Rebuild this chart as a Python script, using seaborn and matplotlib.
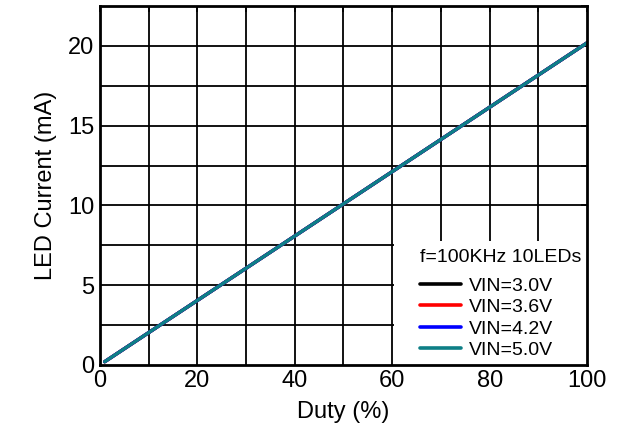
import matplotlib
matplotlib.use("Agg")
import matplotlib.pyplot as plt
from matplotlib.ticker import MultipleLocator
from matplotlib.patches import Rectangle
import seaborn as sns
import pandas as pd

duty = [1, 10, 20, 30, 40, 50, 60, 70, 80, 90, 100]
i_vin_30 = [0.20, 2.02, 4.04, 6.06, 8.08, 10.10, 12.12, 14.14, 16.16, 18.18, 20.20]
i_vin_36 = [0.20, 2.02, 4.04, 6.06, 8.08, 10.10, 12.12, 14.14, 16.16, 18.18, 20.20]
i_vin_42 = [0.20, 2.02, 4.04, 6.06, 8.08, 10.10, 12.12, 14.14, 16.16, 18.18, 20.20]
i_vin_50 = [0.20, 2.02, 4.04, 6.06, 8.08, 10.10, 12.12, 14.14, 16.16, 18.18, 20.20]
series_labels = ["VIN=3.0V", "VIN=3.6V", "VIN=4.2V", "VIN=5.0V"]
series_colors = ["#000000", "#ff0000", "#0000ff", "#0e7f86"]
legend_title = "f=100KHz 10LEDs"

rows = []
for lab, vals in zip(series_labels, [i_vin_30, i_vin_36, i_vin_42, i_vin_50]):
    for d, v in zip(duty, vals):
        rows.append({"Duty": d, "Current": v, "Series": lab})
df = pd.DataFrame(rows)

sns.set_style("white")
plt.rcParams["font.family"] = ["Liberation Sans", "DejaVu Sans"]
plt.rcParams["text.color"] = "black"
plt.rcParams["axes.labelcolor"] = "black"
plt.rcParams["xtick.color"] = "black"
plt.rcParams["ytick.color"] = "black"

fig = plt.figure(figsize=(6.2, 4.37), dpi=100)
ax = fig.add_axes([0.161, 0.165, 0.786, 0.821])

sns.lineplot(data=df, x="Duty", y="Current", hue="Series", hue_order=series_labels,
             palette=series_colors, linewidth=2.4, ax=ax, zorder=3, legend=True)

ax.set_xlim(0, 100)
ax.set_ylim(0, 22.5)
ax.xaxis.set_major_locator(MultipleLocator(20))
ax.xaxis.set_minor_locator(MultipleLocator(10))
ax.yaxis.set_major_locator(MultipleLocator(5))
ax.yaxis.set_minor_locator(MultipleLocator(2.5))

# grid drawn beneath legend
for xv in [10, 20, 30, 40, 50, 60, 70, 80, 90]:
    ax.axvline(xv, color="black", linewidth=1.3, zorder=0.8)
for yv in [2.5, 5, 7.5, 10, 12.5, 15, 17.5, 20]:
    ax.axhline(yv, color="black", linewidth=1.3, zorder=0.8)

# white legend backdrop (covers grid to the right of the 60% line)
ax.add_patch(Rectangle((60.4, 0), 39.6, 7.8, facecolor="white", edgecolor="none", zorder=1.9))

ax.tick_params(which="both", direction="in", top=True, right=True, length=4,
               width=1.2, color="black", labelcolor="black", labelsize=17, pad=4)
ax.tick_params(which="minor", labelsize=0)
for s in ax.spines.values():
    s.set_visible(True)
    s.set_color("black")
    s.set_linewidth(2.0)
    s.set_zorder(4)

ax.set_xlabel("Duty (%)", fontsize=17, labelpad=6, color="black")
ax.set_ylabel("LED Current (mA)", fontsize=17, labelpad=8, color="black")

leg = ax.legend(title=legend_title, loc="lower right", frameon=True, fontsize=14,
                title_fontsize=14, handlelength=2.1, handletextpad=0.4,
                labelspacing=0.2, borderaxespad=0.0, borderpad=0.3,
                alignment="left", fancybox=False)
leg.get_frame().set_facecolor("white")
leg.get_frame().set_edgecolor("none")
leg.get_frame().set_alpha(1.0)
leg.set_zorder(2)
leg._legend_box.sep = 8
leg.get_title().set_color("black")
for t in leg.get_texts():
    t.set_color("black")
for ln in leg.get_lines():
    ln.set_linewidth(2.6)

fig.savefig("out.png", dpi=100)
